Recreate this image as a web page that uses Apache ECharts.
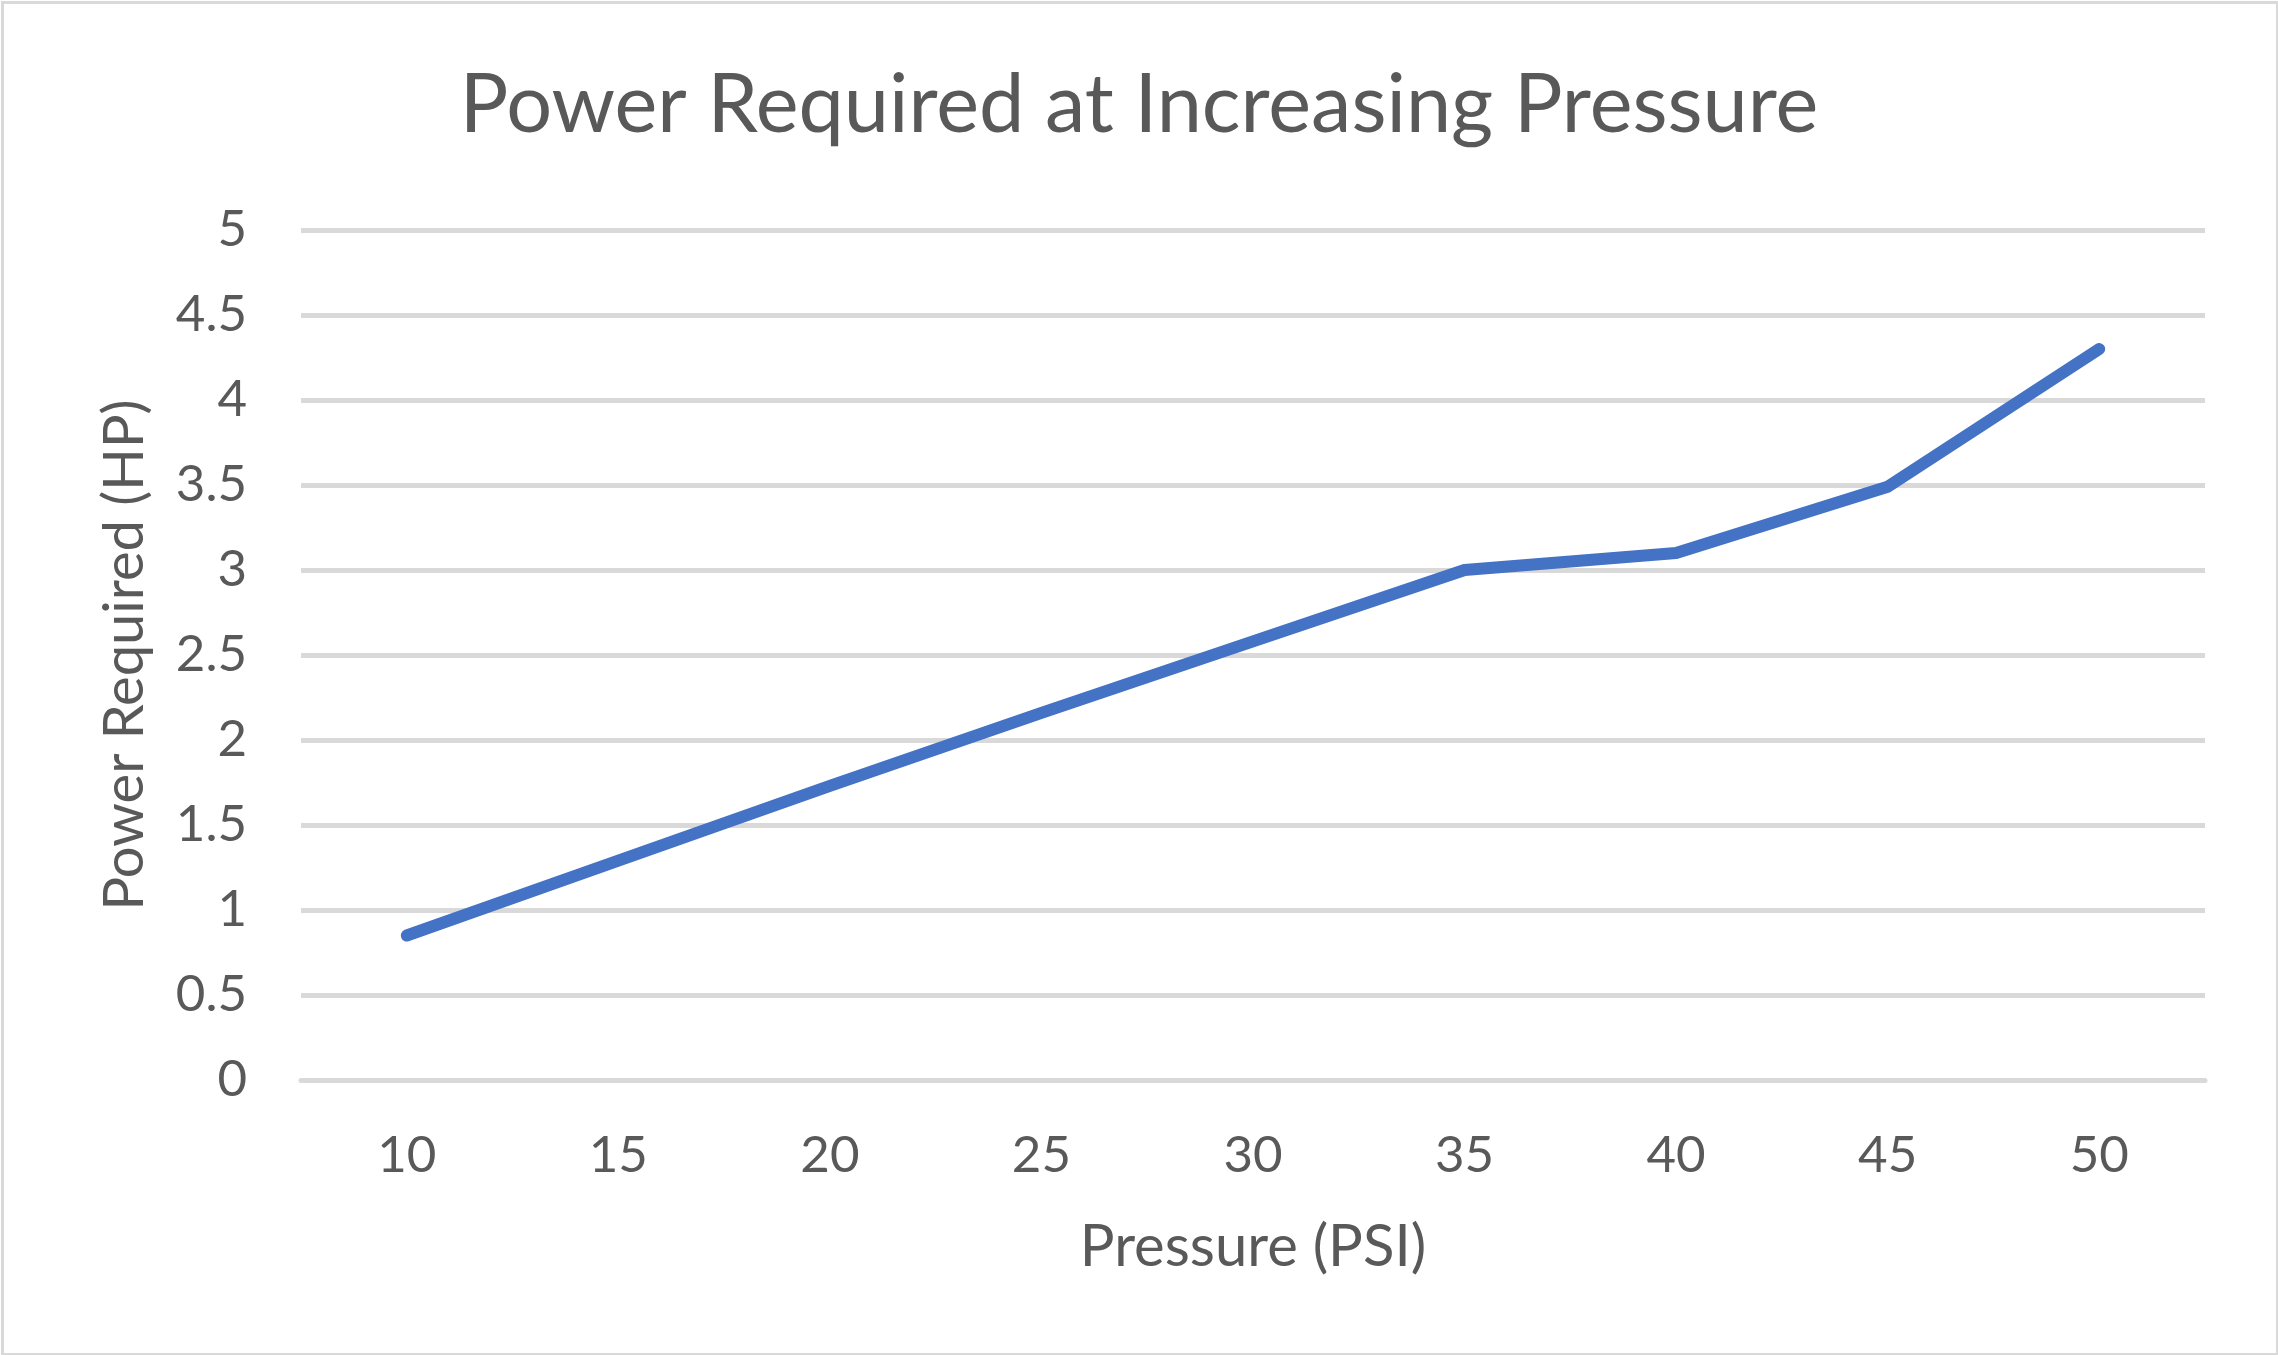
<!DOCTYPE html>
<html>
<head>
<meta charset="utf-8">
<title>Power Required at Increasing Pressure</title>
<script src="https://cdn.jsdelivr.net/npm/echarts@6/dist/echarts.min.js"></script>
<style>
  html, body { margin: 0; padding: 0; background: #ffffff; }
  #chart { width: 2278px; height: 1355px; }
</style>
</head>
<body>
<div id="chart"></div>
<script>
// Pressure settings (PSI) and measured power draw (HP)
const pressurePsi = ['10', '15', '20', '25', '30', '35', '40', '45', '50'];
const powerHp = [0.85, 1.29, 1.73, 2.16, 2.58, 3.0, 3.1, 3.49, 4.3];
const powerTicks = { min: 0, max: 5, step: 0.5 };

const FONT = 'Lato, "Open Sans", sans-serif';
const TEXT = '#595959';
const GRID = '#d9d9d9';

const chart = echarts.init(document.getElementById('chart'), null, { renderer: 'canvas' });

chart.setOption({
  backgroundColor: '#ffffff',
  animation: false,
  title: {
    text: 'Power Required at Increasing Pressure',
    left: 'center',
    top: 60,
    textStyle: { fontFamily: FONT, fontSize: 81, fontWeight: 'normal', color: TEXT }
  },
  graphic: [{
    type: 'rect',
    left: 0, top: 0,
    shape: { x: 1.5, y: 1.5, width: 2275, height: 1352 },
    style: { fill: 'none', stroke: GRID, lineWidth: 3 },
    silent: true
  }],
  grid: { left: 301, right: 73, top: 230, bottom: 275, containLabel: false },
  xAxis: {
    type: 'category',
    data: pressurePsi,
    boundaryGap: true,
    name: 'Pressure (PSI)',
    nameLocation: 'middle',
    nameGap: 138,
    nameTextStyle: { fontFamily: FONT, fontSize: 58, color: TEXT },
    axisLine: { show: true, lineStyle: { color: GRID, width: 5 } },
    axisTick: { show: false },
    axisLabel: { margin: 50, fontFamily: FONT, fontSize: 51, color: TEXT },
    splitLine: { show: false }
  },
  yAxis: {
    type: 'value',
    min: powerTicks.min,
    max: powerTicks.max,
    interval: powerTicks.step,
    name: 'Power Required (HP)',
    nameLocation: 'middle',
    nameGap: 148,
    nameTextStyle: { fontFamily: FONT, fontSize: 56, color: TEXT },
    axisLine: { show: false },
    axisTick: { show: false },
    axisLabel: { margin: 54, fontFamily: FONT, fontSize: 51, color: TEXT },
    splitLine: { show: true, lineStyle: { color: GRID, width: 5 } }
  },
  series: [{
    type: 'line',
    data: powerHp,
    showSymbol: false,
    symbol: 'none',
    lineStyle: { color: '#4472c4', width: 12, cap: 'round', join: 'round' },
    itemStyle: { color: '#4472c4' }
  }]
});
</script>
</body>
</html>
